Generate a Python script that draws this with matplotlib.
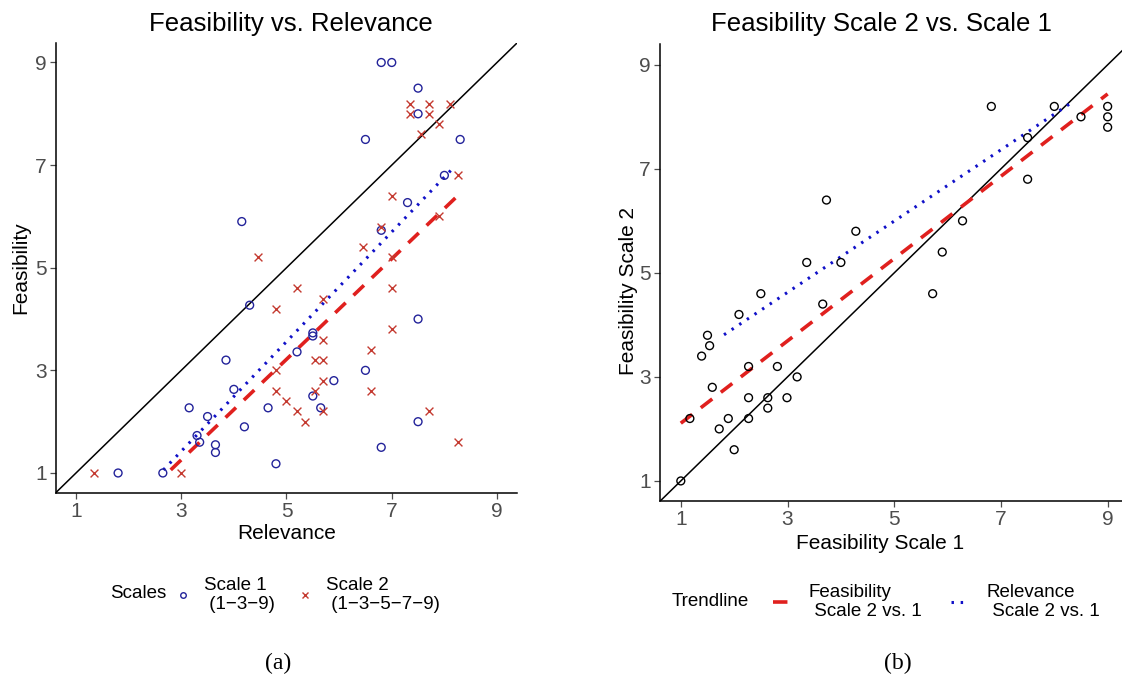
import matplotlib
matplotlib.use("Agg")
import matplotlib.pyplot as plt
from matplotlib.lines import Line2D

plt.rcParams['font.family'] = ['Liberation Sans', 'DejaVu Sans']

# Panel (a): relevance (x) vs feasibility (y)
s1_rel = [6.8, 7.0, 7.5, 7.5, 6.5, 8.3, 8.0, 7.3, 6.8, 4.15, 4.3, 5.5, 5.5, 5.2, 3.85,
          6.5, 4.0, 5.9, 5.5, 3.15, 4.65, 5.65, 3.5, 7.5, 4.2, 3.3, 3.35, 3.65, 3.65,
          4.8, 6.8, 1.8, 2.65, 7.5]
s1_fea = [9.0, 9.0, 8.5, 8.0, 7.5, 7.5, 6.8, 6.27, 5.73, 5.9, 4.27, 3.73, 3.67, 3.36, 3.2,
          3.0, 2.63, 2.8, 2.5, 2.27, 2.27, 2.27, 2.1, 2.0, 1.9, 1.73, 1.6, 1.55, 1.4,
          1.18, 1.5, 1.0, 1.0, 4.0]
s2_rel = [7.35, 7.7, 8.1, 7.35, 7.7, 7.9, 7.55, 8.25, 7.0, 7.9, 6.8, 6.45, 7.0, 4.45,
          5.2, 7.0, 4.8, 5.7, 7.0, 5.7, 6.6, 5.55, 5.7, 4.8, 5.7, 4.8, 5.55, 6.6, 5.0,
          5.2, 5.7, 5.35, 7.7, 8.25, 1.35, 3.0]
s2_fea = [8.2, 8.2, 8.2, 8.0, 8.0, 7.8, 7.6, 6.8, 6.4, 6.0, 5.8, 5.4, 5.2, 5.2,
          4.6, 4.6, 4.2, 4.4, 3.8, 3.6, 3.4, 3.2, 3.2, 3.0, 2.8, 2.6, 2.6, 2.6, 2.4,
          2.2, 2.2, 2.0, 2.2, 1.6, 1.0, 1.0]
trend_a_s1_x = [2.66, 8.2]
trend_a_s1_y = [1.06, 6.98]
trend_a_s2_x = [2.8, 8.25]
trend_a_s2_y = [1.06, 6.4]

# Panel (b): feasibility scale 1 (x) vs scale 2 (y)
fs1 = [3.73, 4.28, 3.36, 4.0, 6.82, 8.0, 9.0, 8.5, 9.0, 9.0, 7.5, 7.5, 6.28, 5.9,
       5.72, 2.5, 3.66, 2.09, 1.5, 1.54, 1.39, 2.27, 2.81, 3.18, 1.59, 2.27, 2.63,
       2.99, 2.63, 1.17, 1.89, 2.27, 1.72, 2.0, 1.0]
fs2 = [6.4, 5.8, 5.2, 5.2, 8.2, 8.2, 8.2, 8.0, 8.0, 7.8, 7.6, 6.8, 6.0, 5.4,
       4.6, 4.6, 4.4, 4.2, 3.8, 3.6, 3.4, 3.2, 3.2, 3.0, 2.8, 2.6, 2.6,
       2.6, 2.4, 2.2, 2.2, 2.2, 2.0, 1.6, 1.0]
trend_b_fea_x = [1.0, 9.0]
trend_b_fea_y = [2.11, 8.44]
trend_b_rel_x = [1.81, 8.29]
trend_b_rel_y = [3.81, 8.25]

ticks = [1, 3, 5, 7, 9]
blue_pt = '#23239a'
red_pt = '#c43a30'
blue_ln = '#1010c8'
red_ln = '#e0201e'
gray = '#4d4d4d'

fig = plt.figure(figsize=(11.22, 6.91), dpi=100)
ax1 = fig.add_axes([56 / 1122, 1 - 493 / 691, 461 / 1122, 450 / 691])
ax2 = fig.add_axes([660 / 1122, 1 - 500.7 / 691, 469 / 1122, 456.7 / 691])


def style(ax):
    for s in ['top', 'right']:
        ax.spines[s].set_visible(False)
    for s in ['left', 'bottom']:
        ax.spines[s].set_linewidth(1.1)
        ax.spines[s].set_color('black')
    ax.set_xticks(ticks)
    ax.set_yticks(ticks)
    ax.tick_params(length=4, width=0.9, color=gray, labelcolor=gray, labelsize=15, pad=2.5)


# --- panel (a)
ax1.axline((1, 1), slope=1, color='black', lw=1.1, zorder=1)
ax1.scatter(s1_rel, s1_fea, s=32, facecolors='none', edgecolors=blue_pt, linewidths=1.0, zorder=3)
ax1.scatter(s2_rel, s2_fea, s=32, marker='x', color=red_pt, linewidths=1.0, zorder=3)
ax1.plot(trend_a_s1_x, trend_a_s1_y, color=blue_ln, lw=2.2, linestyle=(0, (0.8, 2.2)), zorder=2)
ax1.plot(trend_a_s2_x, trend_a_s2_y, color=red_ln, lw=2.6, linestyle=(0, (4, 3)), zorder=2)
ax1.set_xlim(0.62, 9.38)
ax1.set_ylim(0.61, 9.38)
style(ax1)
ax1.set_title('Feasibility vs. Relevance', fontsize=18.5, pad=9, x=0.51)
ax1.set_xlabel('Relevance', fontsize=15, labelpad=2)
ax1.set_ylabel('Feasibility', fontsize=15, labelpad=4)

# --- panel (b)
ax2.axline((1, 1), slope=1, color='black', lw=1.1, zorder=1)
ax2.scatter(fs1, fs2, s=32, facecolors='none', edgecolors='black', linewidths=1.0, zorder=3)
l1, = ax2.plot(trend_b_fea_x, trend_b_fea_y, color=red_ln, lw=2.6, linestyle=(0, (4, 3)), zorder=2)
l2, = ax2.plot(trend_b_rel_x, trend_b_rel_y, color=blue_ln, lw=2.2, linestyle=(0, (0.8, 2.2)), zorder=2)
ax2.set_xlim(0.61, 9.4)
ax2.set_ylim(0.62, 9.4)
style(ax2)
ax2.set_title('Feasibility Scale 2 vs. Scale 1', fontsize=18.5, pad=9, x=0.473)
ax2.set_xlabel('Feasibility Scale 1', fontsize=15)
ax2.xaxis.set_label_coords(0.469, -0.072)
ax2.set_ylabel('Feasibility Scale 2', fontsize=15)
ax2.yaxis.set_label_coords(-0.047, 0.46)

# --- legends
fig.text(110 / 1122, 1 - 594 / 691, 'Scales', fontsize=13.5, va='center', ha='left')
k1 = Line2D([], [], linestyle='none', marker='o', markersize=4, markerfacecolor='none',
            markeredgecolor=blue_pt, markeredgewidth=1.0)
k2 = Line2D([], [], linestyle='none', marker='x', markersize=4, color=red_pt, markeredgewidth=1.0)
fig.legend([k1, k2], ['Scale 1\n (1\u22123\u22129)', 'Scale 2\n (1\u22123\u22125\u22127\u22129)'],
           loc='center left', bbox_to_anchor=(174 / 1122, 1 - 595 / 691), ncol=2,
           frameon=False, fontsize=13.5, handlelength=1.0, handletextpad=0.6,
           columnspacing=1.1, borderpad=0, borderaxespad=0)

fig.text(672 / 1122, 1 - 602 / 691, 'Trendline', fontsize=13.5, va='center', ha='left')
fig.legend([l1, l2], ['Feasibility\n Scale 2 vs. 1', 'Relevance\n Scale 2 vs. 1'],
           loc='center left', bbox_to_anchor=(773 / 1122, 1 - 602 / 691), ncol=2,
           frameon=False, fontsize=13.5, handlelength=0.9, handletextpad=1.0,
           columnspacing=1.6, borderpad=0, borderaxespad=0)

# --- sub captions
fig.text(278 / 1122, 1 - 663 / 691, '(a)', fontsize=17, ha='center', va='center',
         family=['Liberation Serif', 'DejaVu Serif'])
fig.text(898 / 1122, 1 - 663 / 691, '(b)', fontsize=17, ha='center', va='center',
         family=['Liberation Serif', 'DejaVu Serif'])

fig.savefig('out.png', dpi=100)
